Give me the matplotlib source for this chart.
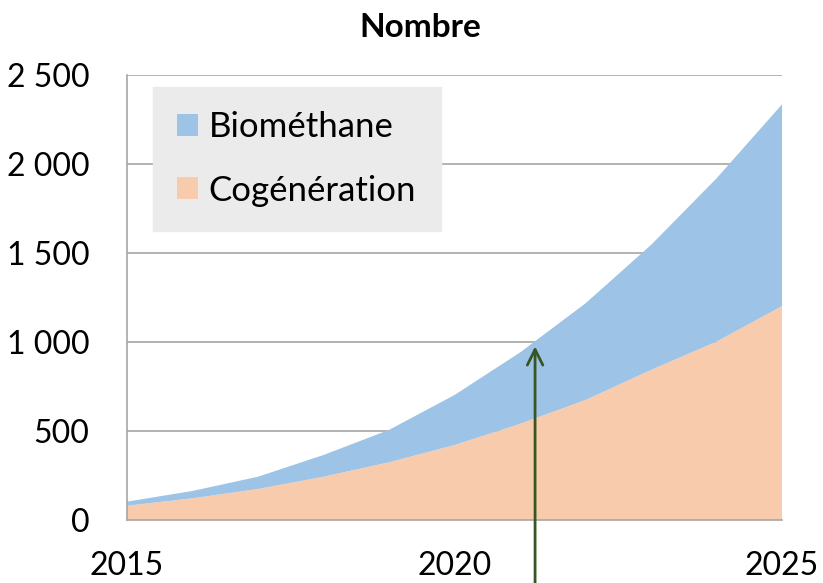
import matplotlib
matplotlib.use("Agg")
import matplotlib.pyplot as plt

plt.rcParams['font.family'] = ['Lato', 'DejaVu Sans']

# Data
years = [2015, 2016, 2017, 2018, 2019, 2020, 2021, 2022, 2023, 2024, 2025]
cogeneration = [80, 122, 174, 243, 324, 421, 540, 674, 843, 1002, 1202]
biomethane = [23, 41, 69, 122, 182, 281, 401, 543, 702, 917, 1133]
y_ticks = [0, 500, 1000, 1500, 2000, 2500]
y_labels = ["0", "500", "1 000", "1 500", "2 000", "2 500"]
x_ticks = [2015, 2020, 2025]
arrow_year = 2021.23
arrow_top = 975
arrow_bottom = -360

fig = plt.figure(figsize=(8.23, 5.83), dpi=100)
ax = fig.add_axes([0.1543, 0.1081, 0.7959, 0.7633])

ax.stackplot(years, cogeneration, biomethane,
             colors=["#f8cbad", "#9dc3e6"],
             labels=["Cogénération", "Biométhane"])

ax.set_xlim(2015, 2025)
ax.set_ylim(0, 2500)
ax.set_yticks(y_ticks)
ax.set_yticklabels(y_labels)
ax.set_xticks(x_ticks)
ax.tick_params(length=0, labelsize=23)
ax.tick_params(axis='y', pad=27)
ax.tick_params(axis='x', pad=22)
ax.grid(axis='y', color="#a6a6a6", linewidth=1.2)
ax.set_axisbelow(True)
for side in ['top', 'right']:
    ax.spines[side].set_visible(False)
for side in ['left', 'bottom']:
    ax.spines[side].set_color("#a6a6a6")
    ax.spines[side].set_linewidth(1.2)

# title sits a bit left of the plot centre, like the original
fig.text(420 / 823, 1 - 37 / 583, "Nombre", fontsize=24, fontweight='bold',
         ha='center', va='baseline')

handles, labels = ax.get_legend_handles_labels()
leg = ax.legend(handles[::-1], labels[::-1], loc='upper left',
                bbox_to_anchor=(0.04, 0.973), fontsize=25,
                frameon=True, fancybox=False, facecolor="#ebebeb",
                edgecolor="#ebebeb", framealpha=1,
                handlelength=0.6, handleheight=0.6, handletextpad=0.3,
                labelspacing=0.9, borderpad=0.7, borderaxespad=0)

ax.annotate("", xy=(arrow_year, arrow_top), xytext=(arrow_year, arrow_bottom),
            arrowprops=dict(arrowstyle="->", color="#375623", lw=2.0,
                            mutation_scale=28, shrinkA=0, shrinkB=0),
            annotation_clip=False)

fig.savefig("out.png", dpi=100)
